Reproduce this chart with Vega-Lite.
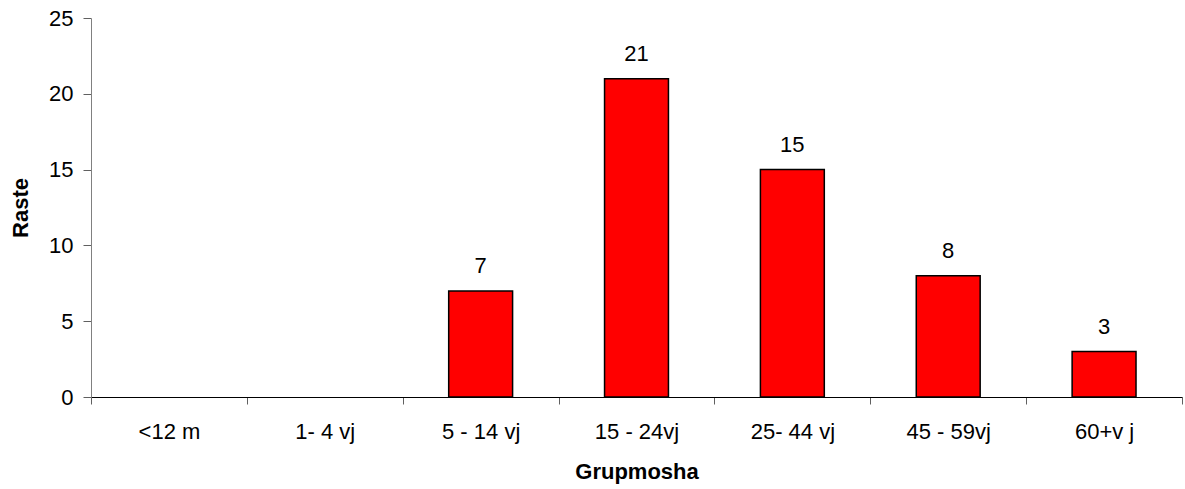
{
  "$schema": "https://vega.github.io/schema/vega-lite/v6.json",
  "width": 1091,
  "height": 379,
  "autosize": {"type": "none"},
  "padding": {"left": 91, "top": 18, "right": 3, "bottom": 92},
  "background": "white",
  "config": {
    "view": {"stroke": null},
    "font": "Liberation Sans"
  },
  "data": {
    "values": [
      {"group": "<12 m", "count": 0},
      {"group": "1- 4 vj", "count": 0},
      {"group": "5 - 14 vj", "count": 7},
      {"group": "15 - 24vj", "count": 21},
      {"group": "25- 44 vj", "count": 15},
      {"group": "45 - 59vj", "count": 8},
      {"group": "60+v j", "count": 3}
    ]
  },
  "encoding": {
    "x": {
      "field": "group",
      "type": "nominal",
      "sort": null,
      "scale": {
        "domain": ["<12 m", "1- 4 vj", "5 - 14 vj", "15 - 24vj", "25- 44 vj", "45 - 59vj", "60+v j"],
        "paddingInner": 0,
        "paddingOuter": 0
      },
      "axis": {
        "title": "Grupmosha",
        "titleFontSize": 22,
        "titleFontWeight": "bold",
        "titleColor": "black",
        "titlePadding": 19,
        "labelAngle": 0,
        "labelFontSize": 22,
        "labelColor": "black",
        "labelPadding": 17,
        "tickBand": "extent",
        "tickSize": 7,
        "tickColor": "#606060",
        "domainColor": "black",
        "domainWidth": 1
      }
    },
    "y": {
      "field": "count",
      "type": "quantitative",
      "scale": {"domain": [0, 25]},
      "axis": {
        "title": "Raste",
        "titleFontSize": 22,
        "titleFontWeight": "bold",
        "titleColor": "black",
        "titlePadding": 16,
        "values": [0, 5, 10, 15, 20, 25],
        "labelFontSize": 22,
        "labelColor": "black",
        "labelPadding": 10,
        "tickSize": 8,
        "tickColor": "#606060",
        "domainColor": "#808080",
        "grid": false
      }
    }
  },
  "layer": [
    {
      "transform": [{"filter": "datum.count > 0"}],
      "mark": {"type": "bar", "fill": "#FF0000", "stroke": "black", "strokeWidth": 1.5, "width": {"band": 0.41}}
    },
    {
      "transform": [{"filter": "datum.count > 0"}],
      "mark": {"type": "text", "baseline": "alphabetic", "dy": -18, "fontSize": 22, "color": "black"},
      "encoding": {"text": {"field": "count", "type": "quantitative"}}
    }
  ]
}
